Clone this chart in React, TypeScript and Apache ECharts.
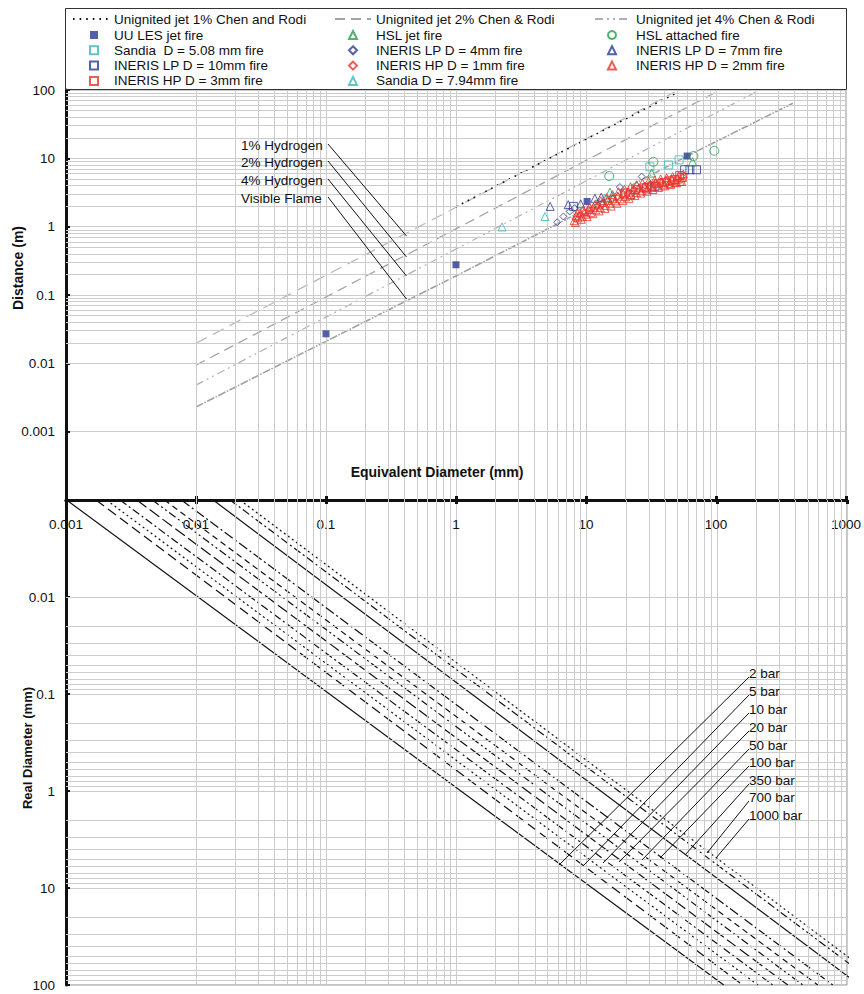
import React, { useEffect, useRef } from "react";
import * as echarts from "echarts";

const FONT = "'Liberation Sans', Arial, Helvetica, sans-serif";

// ---------- Top chart: flame / jet lengths (Distance m vs Equivalent diameter mm)
const chen1Line = [[1, 1.95], [10, 19], [51, 93]];
const hyd1Line = [[0.01, 0.0197], [1, 1.92], [48, 93]];
const chen2Line = [[0.01, 0.0094], [1, 0.93], [100, 93]];
const chen4Line = [[0.01, 0.0048], [1, 0.47], [206, 95]];
const visibleLine = [[0.01, 0.0023], [0.1, 0.021], [1, 0.19], [10, 1.8], [60, 10.8], [390, 64]];

const uuLes = [[0.1, 0.027], [1, 0.277], [10.2, 2.34], [60, 10.8]];
const hslJet = [[15.3, 3.2], [32, 6.1], [66, 8.9]];
const hslAttached = [[15.1, 5.5], [33, 8.9], [67, 10.8], [97, 12.9]];
const sandia508 = [[31, 7.5], [43, 8.0], [52, 9.5]];
const sandia794 = [[2.26, 0.99], [4.84, 1.41], [12.2, 2.2], [13.9, 2.6], [16, 2.8], [24.6, 4.1]];
const inerisLp4 = [[6.0, 1.16], [6.7, 1.41], [7.5, 1.67], [8.2, 1.87], [18.2, 3.8], [26.8, 5.4]];
const inerisLp7 = [[5.3, 1.98], [7.3, 2.1], [9.1, 2.16], [11.7, 2.6], [13.1, 2.7]];
const inerisLp10 = [[8, 1.98], [21.9, 2.9], [29.3, 3.7], [33.9, 3.9], [57.4, 6.8], [63, 6.8], [70.8, 6.8]];
const inerisHp1 = [[8.3, 1.3], [9.1, 1.45], [10.0, 1.6], [11.0, 1.75], [12.1, 1.95], [13.3, 2.15], [14.6, 2.35], [16.0, 2.55], [17.6, 2.75], [19.4, 3.0], [21.3, 3.25], [23.4, 3.5], [25.8, 3.75], [28.4, 4.0], [31.2, 4.2], [34.3, 4.4], [37.7, 4.6], [41.5, 4.8], [45.6, 4.95], [50.2, 5.1], [55, 5.4]];
const inerisHp2 = [
  [8.1, 1.22], [8.4, 1.45], [8.7, 1.35], [9.0, 1.58], [9.3, 1.42], [9.7, 1.66], [10.1, 1.52], [10.5, 1.78], [10.9, 1.62], [11.4, 1.92], [11.9, 1.76], [12.4, 2.08], [12.9, 1.9], [13.5, 2.25], [14.1, 2.05], [14.7, 2.42], [15.4, 2.2], [16.1, 2.6], [16.8, 2.38], [17.6, 2.8], [18.4, 2.55], [19.3, 3.0], [20.2, 2.75], [21.2, 3.2], [22.2, 2.95], [23.3, 3.45], [24.4, 3.15], [25.6, 3.7], [26.9, 3.35], [28.2, 3.9], [29.6, 3.55], [31.1, 4.1], [32.6, 3.75], [34.2, 4.3], [35.9, 3.95], [37.7, 4.45], [39.6, 4.1], [41.6, 4.6], [43.7, 4.3], [45.9, 4.75], [48.2, 4.45], [50.6, 4.95], [53.1, 4.6], [55.0, 5.2],
  [8.6, 1.6], [9.5, 1.75], [10.6, 1.95], [11.8, 2.15], [13.0, 2.4], [14.4, 2.65], [16.0, 2.95], [17.8, 3.25], [19.8, 3.55], [22.0, 3.85], [24.5, 4.1], [27.2, 4.35], [30.3, 4.6], [33.7, 4.8], [37.5, 5.0], [41.7, 5.2], [46.4, 5.4], [51.6, 5.6], [56, 5.9],
  [8.3, 1.15], [9.2, 1.28], [10.2, 1.4], [11.3, 1.55], [12.6, 1.7], [14.0, 1.85], [15.6, 2.0], [17.3, 2.2], [19.2, 2.4], [21.4, 2.6], [23.8, 2.85], [26.4, 3.1], [29.4, 3.3], [32.7, 3.5], [36.3, 3.75], [40.4, 3.95], [44.9, 4.15], [49.9, 4.4], [54.5, 4.6],
];
const inerisHp3 = [[20, 3.1], [24, 3.5], [28, 3.7], [32, 3.9], [36, 4.3], [40, 4.4], [44, 4.7], [48, 4.9], [52.5, 5.6], [55, 5.3]];

// ---------- Bottom chart: Real diameter vs Equivalent diameter, per pressure
const pressureLabels = ["2 bar", "5 bar", "10 bar", "20 bar", "50 bar", "100 bar", "350 bar", "700 bar", "1000 bar"];
const bottomLines = [
  [[0.00101, 0.001], [113, 100]],
  [[0.0017, 0.001], [158, 100]],
  [[0.00205, 0.001], [207, 100]],
  [[0.0026, 0.001], [269, 100]],
  [[0.0035, 0.001], [351, 100]],
  [[0.0046, 0.001], [458, 100]],
  [[0.0057, 0.001], [597, 100]],
  [[0.0077, 0.001], [778, 100]],
  [[0.0135, 0.001], [1240, 100]],
  [[0.0182, 0.001], [1720, 100]],
  [[0.0217, 0.001], [1980, 100]],
];
const bottomDash: any[] = ["solid", [10, 5], [2, 3], [8, 3, 2, 3], [12, 4], [8, 3, 2, 3, 2, 3], [6, 4], [10, 3, 2, 3], "solid", [8, 3, 2, 3], [2, 3]];

function logLabel(v: number) {
  const e = Math.round(Math.log10(v));
  if (e >= 0) return String(Math.pow(10, e));
  return "0." + "0".repeat(-e - 1) + "1";
}

const minorVals = (from: number, to: number) => {
  const out: number[] = [];
  for (let e = from; e <= to; e++) for (let m = 2; m <= 9; m++) out.push(m * Math.pow(10, e));
  return out;
};

const GRID_COLOR = "#cccccc";

export default function App() {
  const ref = useRef<HTMLDivElement>(null);
  useEffect(() => {
    const chart = echarts.init(ref.current!, undefined, { renderer: "svg" });
    const navy = "#2b3990";
    const cyan = "#3ab7b7";
    const green = "#22a04a";
    const red = "#e8332a";
    const hollow = (c: string) => ({ color: "transparent", borderColor: c, borderWidth: 1 });

    const scat = (name: string, data: number[][], symbol: string, size: number, itemStyle: any) => ({
      name, type: "scatter", xAxisIndex: 0, yAxisIndex: 0, data, symbol, symbolSize: size, itemStyle, z: 5,
    });

    const gridLineStyle = { color: GRID_COLOR, width: 1, type: "solid" };
    const mk = (xs: number[], ys: number[]) => ({
      silent: true, symbol: ["none", "none"], label: { show: false }, lineStyle: gridLineStyle,
      animation: false,
      data: [...xs.map((v) => ({ xAxis: v })), ...ys.map((v) => ({ yAxis: v }))],
    });

    const txt = (text: string, x: number, y: number, extra: any = {}) => ({
      type: "text", x, y, z: 50,
      style: { text, fill: "#111", font: `13.5px ${FONT}`, fontSize: 13.5, fontFamily: FONT, align: "left", verticalAlign: "middle", textAlign: "left", textVerticalAlign: "middle", ...extra },
    });
    const ln = (x1: number, y1: number, x2: number, y2: number) => ({
      type: "line", z: 50, shape: { x1, y1, x2, y2 }, style: { stroke: "#111", lineWidth: 1 },
    });

    const hydLabels = [["1% Hydrogen", 145, 236], ["2% Hydrogen", 162, 257], ["4% Hydrogen", 180, 276], ["Visible Flame", 198, 299]];
    const barY = [673, 691, 709, 727, 745, 762, 780, 797, 815];
    const barEnd = [[559, 865], [584, 865], [603, 863], [619, 862], [642, 860], [660, 858], [685, 855], [707, 853], [716, 858]];

    const graphic: any[] = [
      { type: "rect", z: 40, shape: { x: 65.5, y: 8.5, width: 781, height: 81 }, style: { fill: "none", stroke: "#333", lineWidth: 1 } },
      txt("Equivalent Diameter (mm)", 437, 472, { font: `bold 14px ${FONT}`, fontWeight: "bold", fontSize: 14, align: "center", textAlign: "center" }),
      { ...txt("Distance (m)", 18, 268, { font: `bold 14px ${FONT}`, fontWeight: "bold", fontSize: 14, align: "center", textAlign: "center" }), rotation: Math.PI / 2 },
      { ...txt("Real Diameter (mm)", 27, 748, { font: `bold 13px ${FONT}`, fontWeight: "bold", fontSize: 13, align: "center", textAlign: "center" }), rotation: Math.PI / 2 },
    ];
    hydLabels.forEach(([t, y, ey]: any) => {
      graphic.push(txt(t, 241, y));
      graphic.push(ln(328, y - 1, 406.5, ey));
    });
    pressureLabels.forEach((t, i) => {
      graphic.push(txt(t, 749, barY[i]));
      graphic.push(ln(749, barY[i] + 4, barEnd[i][0], barEnd[i][1]));
    });

    const textStyle = { fontSize: 13.5, lineHeight: 15, color: "#111", fontFamily: FONT };
    const lineLegend = (left: number, name: string) => ({
      orient: "vertical", left, top: 11.5, itemWidth: 36, itemHeight: 8, itemGap: 0, padding: 0,
      selectedMode: false, textStyle, data: [{ name, itemStyle: { opacity: 0 } }],
    });
    const symLegend = (left: number, pad: number, names: string[]) => ({
      orient: "vertical", left, top: 27.5, itemWidth: 8, itemHeight: 8, itemGap: 0.3, padding: 0,
      selectedMode: false, textStyle: { ...textStyle, padding: [0, 0, 0, pad] }, data: names,
    });

    const option: any = {
      animation: false,
      backgroundColor: "#fff",
      textStyle: { fontFamily: FONT },
      grid: [
        { left: 66, top: 90, width: 781, height: 410, show: true, borderColor: "#999", borderWidth: 1, backgroundColor: "transparent" },
        { left: 66, top: 500, width: 781, height: 485, show: true, borderColor: "#888", borderWidth: 1, backgroundColor: "transparent" },
      ],
      legend: [
        lineLegend(72, "Unignited jet 1% Chen and Rodi"),
        lineLegend(334, "Unignited jet 2% Chen & Rodi"),
        lineLegend(594, "Unignited jet 4% Chen & Rodi"),
        symLegend(89, 11, ["UU LES jet fire", "Sandia  D = 5.08 mm fire", "INERIS LP D = 10mm fire", "INERIS HP D = 3mm fire"]),
        symLegend(348, 14, ["HSL jet fire", "INERIS LP D = 4mm fire", "INERIS HP D = 1mm fire", "Sandia D = 7.94mm fire"]),
        symLegend(607, 15, ["HSL attached fire", "INERIS LP D = 7mm fire", "INERIS HP D = 2mm fire"]),
      ],
      xAxis: [
        {
          gridIndex: 0, type: "log", logBase: 10, min: 0.001, max: 1000, position: "bottom",
          axisLine: { show: true, onZero: false, lineStyle: { color: "#111", width: 3 } },
          axisTick: { show: true, inside: true, length: 4, lineStyle: { color: "#111", width: 3 } },
          axisLabel: { show: true, margin: 17, fontSize: 13.5, color: "#111", fontFamily: FONT, formatter: logLabel, showMinLabel: true, showMaxLabel: true },
          splitLine: { show: true, lineStyle: gridLineStyle },
        },
        {
          gridIndex: 1, type: "log", logBase: 10, min: 0.001, max: 1000, position: "top",
          axisLine: { show: true, onZero: false, lineStyle: { color: "#111", width: 3 } },
          axisTick: { show: true, inside: true, length: 4, lineStyle: { color: "#111", width: 3 } },
          axisLabel: { show: false },
          splitLine: { show: true, lineStyle: gridLineStyle },
        },
      ],
      yAxis: [
        {
          gridIndex: 0, type: "log", logBase: 10, min: 0.0001, max: 100,
          axisLine: { show: true, onZero: false, lineStyle: { color: "#111", width: 3 } },
          axisTick: { show: true, inside: true, length: 4, lineStyle: { color: "#111", width: 2 } },
          axisLabel: { margin: 11, fontSize: 13.5, color: "#111", fontFamily: FONT, formatter: (v: number) => (v < 0.0005 ? "" : logLabel(v)) },
          splitLine: { show: true, lineStyle: gridLineStyle },
        },
        {
          gridIndex: 1, type: "log", logBase: 10, min: 0.001, max: 100, inverse: true,
          axisLine: { show: true, onZero: false, lineStyle: { color: "#111", width: 3 } },
          axisTick: { show: true, inside: true, length: 4, lineStyle: { color: "#111", width: 2 } },
          axisLabel: { margin: 11, fontSize: 13.5, color: "#111", fontFamily: FONT, formatter: (v: number) => (v < 0.005 ? "" : logLabel(v)) },
          splitLine: { show: true, lineStyle: gridLineStyle },
        },
      ],
      graphic,
      series: [
        { name: "gridTop", type: "line", xAxisIndex: 0, yAxisIndex: 0, data: [], z: 1, markLine: mk(minorVals(-3, 2), minorVals(-4, 1)) },
        { name: "gridBottom", type: "line", xAxisIndex: 1, yAxisIndex: 1, data: [], z: 1, markLine: mk(minorVals(-3, 2), minorVals(-3, 1)) },
        { name: "1% Hydrogen", type: "line", data: hyd1Line, symbol: "none", z: 3, lineStyle: { color: "#b5b5b5", width: 1.2, type: [12, 7] } },
        { name: "Unignited jet 2% Chen & Rodi", type: "line", data: chen2Line, symbol: "none", z: 3, lineStyle: { color: "#a3a3a3", width: 1.3, type: [10, 6] } },
        { name: "Unignited jet 4% Chen & Rodi", type: "line", data: chen4Line, symbol: "none", z: 3, lineStyle: { color: "#b0b0b0", width: 1.2, type: [8, 4, 2, 4, 2, 4] } },
        { name: "Visible Flame", type: "line", data: visibleLine, symbol: "none", z: 3, lineStyle: { color: "#a0a0a0", width: 1.6, type: [8, 1.5, 1.5, 1.5] } },
        { name: "Unignited jet 1% Chen and Rodi", type: "line", data: chen1Line, symbol: "none", z: 4, lineStyle: { color: "#111", width: 1.6, type: [1.6, 5] } },
        scat("UU LES jet fire", uuLes, "rect", 7, { color: navy }),
        scat("Sandia  D = 5.08 mm fire", sandia508, "rect", 8, hollow(cyan)),
        scat("INERIS LP D = 10mm fire", inerisLp10, "rect", 8, hollow(navy)),
        scat("INERIS HP D = 3mm fire", inerisHp3, "rect", 8, hollow(red)),
        scat("HSL jet fire", hslJet, "triangle", 8, hollow(green)),
        scat("INERIS LP D = 4mm fire", inerisLp4, "diamond", 7, hollow(navy)),
        scat("INERIS HP D = 1mm fire", inerisHp1, "diamond", 7, hollow(red)),
        scat("Sandia D = 7.94mm fire", sandia794, "triangle", 8, hollow(cyan)),
        scat("HSL attached fire", hslAttached, "circle", 9, hollow(green)),
        scat("INERIS LP D = 7mm fire", inerisLp7, "triangle", 8, hollow(navy)),
        scat("INERIS HP D = 2mm fire", inerisHp2, "triangle", 8, hollow(red)),
        ...bottomLines.map((d, i) => ({
          name: i < pressureLabels.length ? pressureLabels[i] : "line " + (i + 1),
          type: "line", xAxisIndex: 1, yAxisIndex: 1, data: d, symbol: "none", z: 3, clip: true,
          lineStyle: { color: "#111", width: 1.2, type: bottomDash[i] },
        })),
      ],
    };
    chart.setOption(option);
    return () => chart.dispose();
  }, []);
  return <div ref={ref} style={{ width: 864, height: 994, position: "absolute", left: 0, top: 0 }} />;
}
